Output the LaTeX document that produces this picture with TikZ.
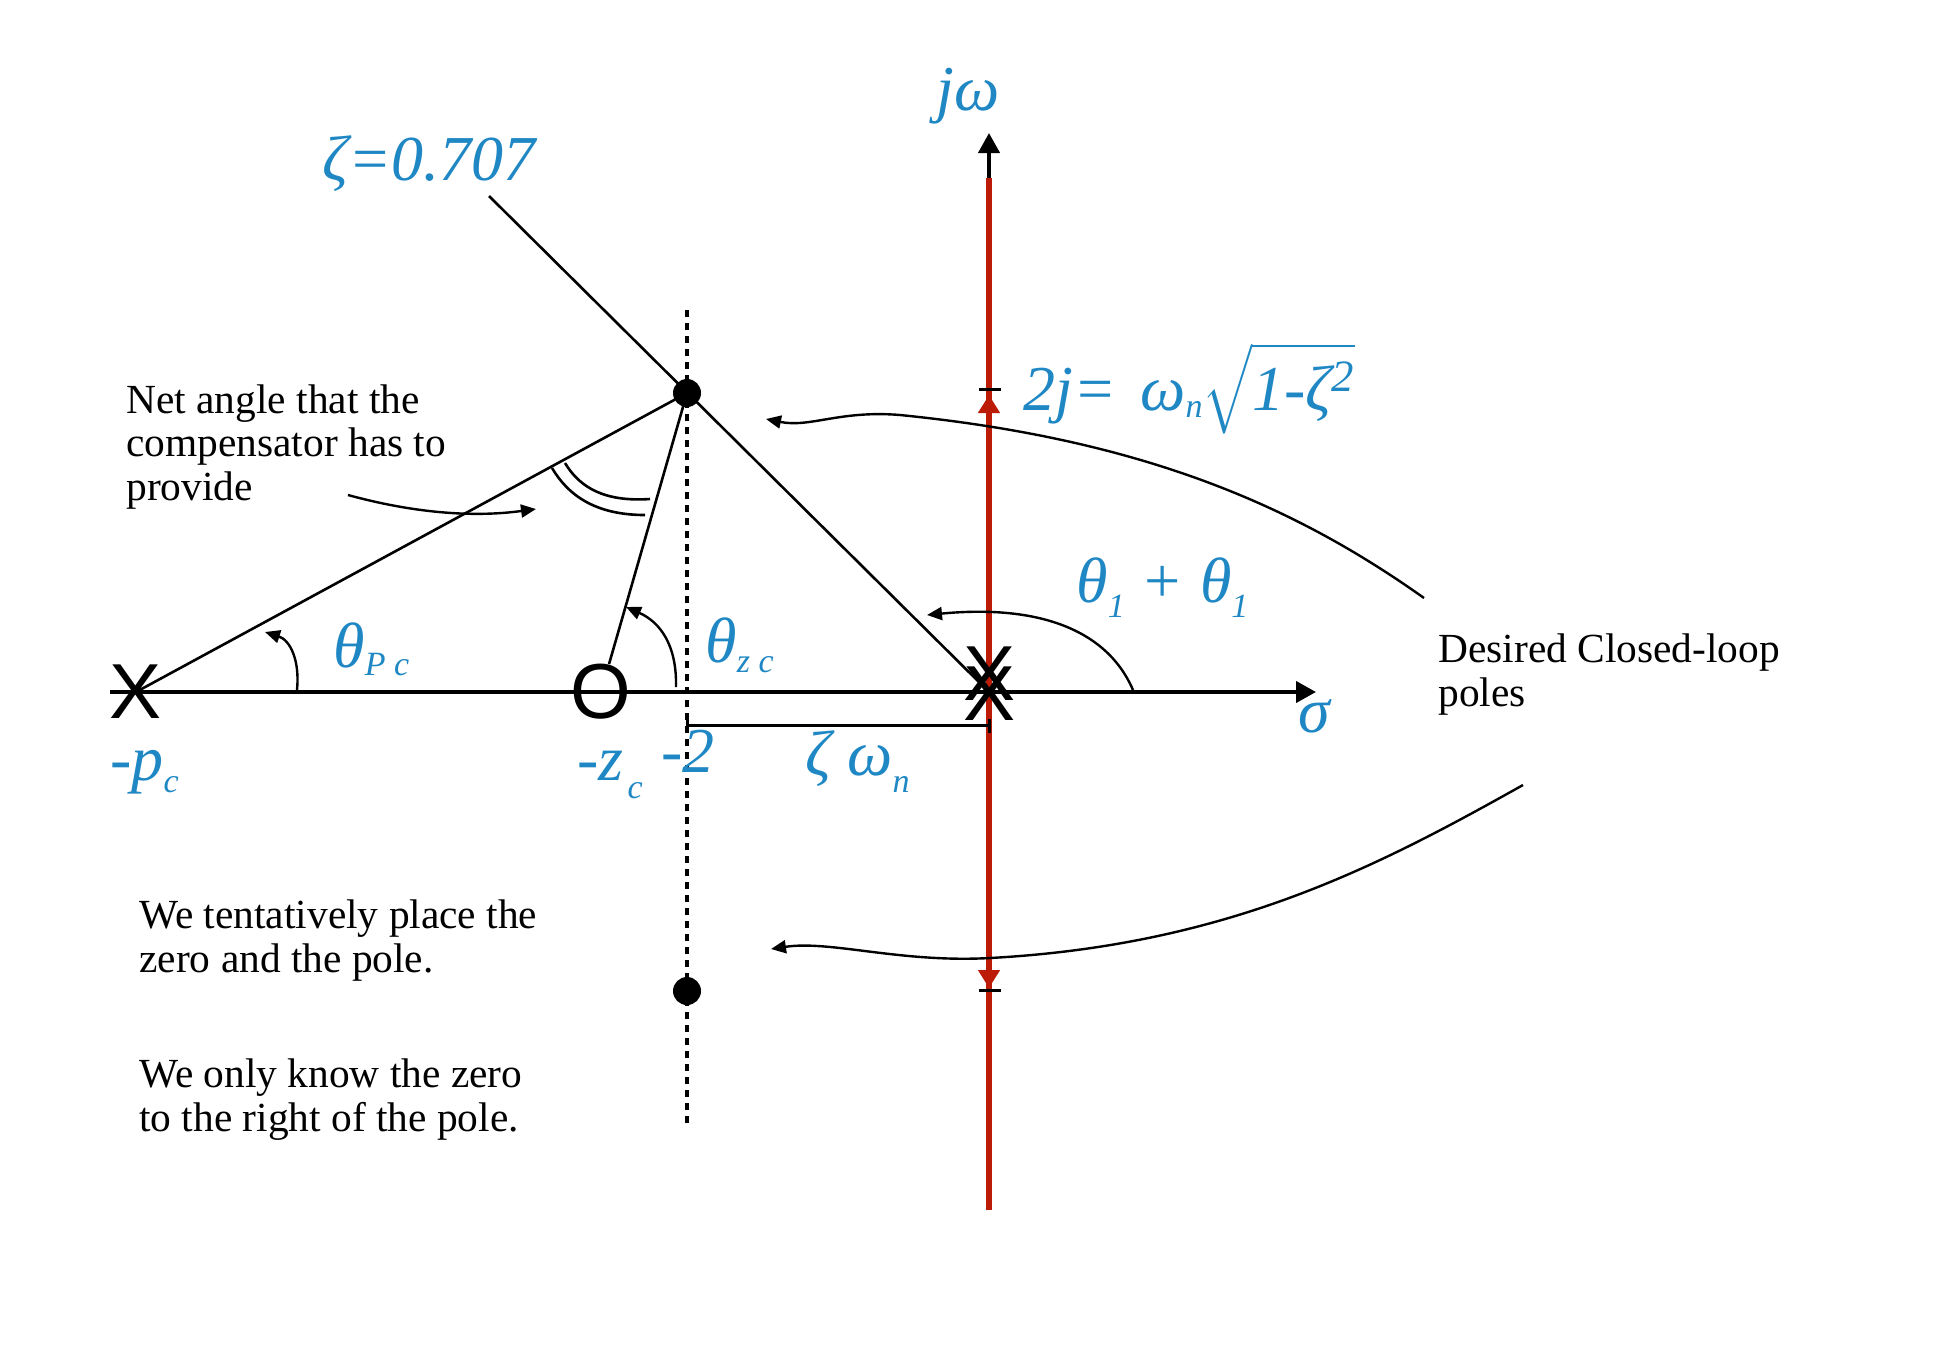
\documentclass[tikz,border=0pt]{standalone}
\usepackage{fontspec}
\setmainfont{Liberation Serif}
\newfontfamily\markfont{Liberation Sans}
\usepackage{amsmath}
\usepackage{tikz}
\usetikzlibrary{arrows.meta,positioning,calc}
\definecolor{lblue}{RGB}{31,136,196}
\definecolor{rlred}{RGB}{188,27,8}
\newcommand{\lowsub}[2]{\raisebox{-#1}{\fontsize{17}{17}\selectfont #2}}
\tikzset{
  axisline/.style={line width=2pt,-{Triangle[width=10.5pt,length=10pt]}},
  rayline/.style={line width=1.3pt},
  arcarrow/.style={line width=1.2pt,-{Triangle[width=6.5pt,length=7.5pt]}},
  rlocus/.style={line width=3pt,rlred},
  rltip/.style={rlocus,-{Triangle[width=10.5pt,length=9pt]}},
  polemark/.style={inner sep=0pt,font=\markfont\fontsize{39}{39}\selectfont},
  cldot/.style={circle,fill,inner sep=0pt,minimum size=14pt},
  lbl/.style={anchor=base west,inner sep=0pt,text=lblue,font=\itshape\fontsize{32}{34}\selectfont},
  note/.style={anchor=base west,inner sep=0pt,align=left,font=\fontsize{20.7}{21.7}\selectfont},
}
\begin{document}
\begin{tikzpicture}[x=0.5pt,y=0.5pt,yscale=-1,xscale=1]
\useasboundingbox[fill=white] (0,0) rectangle (1942,1356);

% axes and locus
\coordinate (origin) at (989,692);
\coordinate (sigL) at (110,692);
\coordinate (sigR) at (1316,692);
\coordinate (jwT) at (989,133);
\coordinate (rlT) at (989,178);
\coordinate (jwB) at (989,1210);
\coordinate (zetaT) at (489,196);
\coordinate (dotT) at (687,310);
\coordinate (dotB) at (687,1125);

\draw[axisline] (sigL) -- (sigR);
\draw[axisline] (origin) -- (jwT);
\draw[rlocus] (rlT) -- (jwB);
\draw[rltip] (989,430) -- (989,395);
\draw[rltip] (989,955) -- (989,988);
%Ticks
\draw[line width=1.5pt] (979,389) -- (1001,389);
\draw[line width=1.5pt] (979,990) -- (1001,990);

%Dotted line at -2
\draw[line width=1.6pt,dash pattern=on 3.5pt off 3pt] (dotT) -- (dotB);

%Bracket
\draw[line width=1.5pt] (687,719) -- (687,733);
\draw[line width=1.5pt] (687,725) -- (989,725);
\draw[line width=1.5pt] (989,719) -- (989,733);

% Poles, zero and closed-loop poles
\draw (136,692) node[polemark] (pc) {X};
\draw (601,692) node[polemark] (zc) {O};
\draw (989,720) node[polemark,anchor=base] (pd) {\rlap{\raisebox{10pt}{X}}X};
\draw (687,393) node[cldot] (sup) {};
\draw (687,991) node[cldot] (sdn) {};

%Straight Lines
\draw[rayline] (pc.center) -- (sup.center);
\draw[rayline] (zc) -- (sup.center);
\draw[rayline] (zetaT) -- (origin);

%Angle arcs
\draw[arcarrow] (297,690) .. controls (300,660) and (290,640) .. (265,632);
\draw[arcarrow] (676,687) .. controls (677,645) and (660,622) .. (626,607);
\draw[arcarrow] (1133,690) .. controls (1105,625) and (1030,605) .. (927,615);
\draw[rayline] (552,468) .. controls (568,495) and (595,515) .. (645,515);
\draw[rayline] (565,463) .. controls (580,488) and (605,502) .. (650,499);

%Curved arrows
\coordinate (netS) at (348,495);
\coordinate (netT) at (536,509);
\coordinate (dcUS) at (1424,598);
\coordinate (dcUT) at (766,419);
\coordinate (dcLS) at (1523,785);
\coordinate (dcLT) at (771,949);
\draw[arcarrow] (netS) .. controls (410,512) and (470,518) .. (netT);
\draw[arcarrow] (dcUS) .. controls (1300,510) and (1150,440) .. (900,415) .. controls (840,410) and (810,428) .. (dcUT);
\draw[arcarrow] (dcLS) .. controls (1380,865) and (1230,945) .. (990,958) .. controls (900,963) and (830,940) .. (dcLT);

% Text Node
\draw (322,180) node[lbl] (zeta) {ζ=0.707};
% Text Node
\draw (936,110) node[lbl] (jw) {jω};
% Text Node
\draw (1023,410) node[lbl] (wd) {2j=\hspace{12pt}ω\lowsub{3.5pt}{n}$\sqrt{\hbox{1-ζ\textsuperscript{2}}}$};
% Text Node
\draw (1298,732) node[lbl] (sigma) {σ};
% Text Node
\draw (110,780) node[lbl] (pclbl) {-p\lowsub{6pt}{c}};
% Text Node
\draw (577,780) node[lbl] (zclbl) {-z\hspace{2pt}\lowsub{9pt}{c}};
% Text Node
\draw (661,772) node[lbl] (mtwo) {-2};
% Text Node
\draw (333,667) node[lbl] (thp) {θ\lowsub{4pt}{P c}};
% Text Node
\draw (705,662) node[lbl] (thz) {θ\lowsub{5pt}{z c}};
% Text Node
\draw (1076,602) node[lbl] (thsum) {θ\lowsub{7.5pt}{1} + θ\lowsub{7.5pt}{1}};
% Text Node
\draw (805,775) node[lbl] (zwn) {ζ ω\lowsub{8.5pt}{n}};
% Text Node
\draw (126,500) node[note] (netangle) {Net angle that the\\compensator has to\\provide};
% Text Node
\draw (139,972) node[note] (tent) {We tentatively place the\\zero and the pole.};
% Text Node
\draw (139,1131) node[note] (know) {We only know the zero\\to the right of the pole.};
% Text Node
\draw (1438,706) node[note] (desired) {Desired Closed-loop\\poles};
\end{tikzpicture}
\end{document}
